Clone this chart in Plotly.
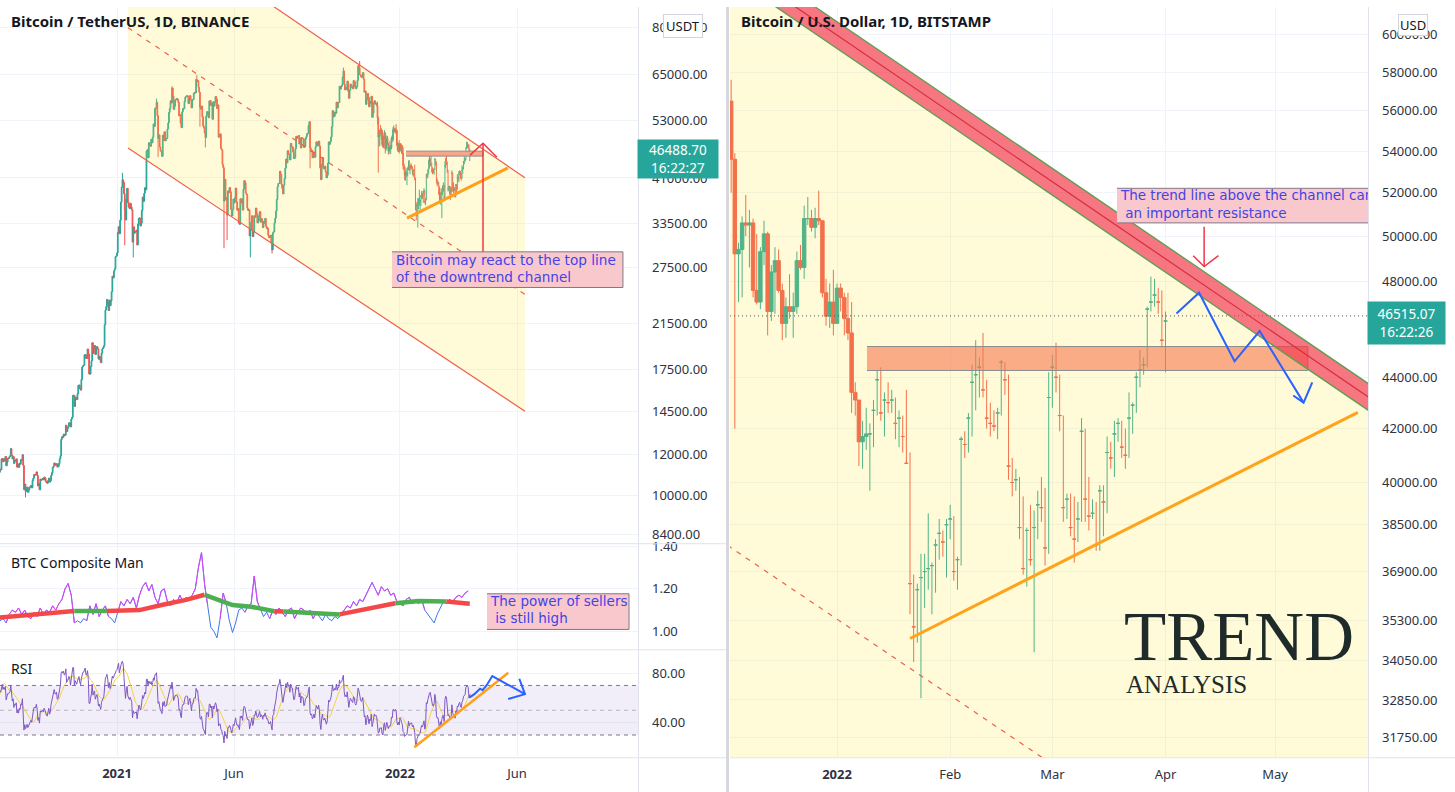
import numpy as np
import pandas as pd
import plotly.graph_objects as go

W, H = 1455, 792

# ======================= DATA =======================
# Left chart: BTC/USDT daily closes (BINANCE)
close_2020_07 = [9230, 9090, 9060, 9130, 9070, 9340, 9250, 9430, 9230, 9290, 9240, 9300, 9240, 9240, 9130, 9150,
                 9160, 9180, 9210, 9160, 9390, 9530, 9610, 9550, 9710, 9940, 10990, 10910, 11100, 11110, 11350]
close_2020_08 = [11800, 11070, 11230, 11190, 11740, 11770, 11600, 11750, 11680, 11880, 11400, 11580, 11780, 11770,
                 11860, 11910, 12300, 11950, 11750, 11870, 11520, 11680, 11650, 11750, 11330, 11470, 11320, 11530,
                 11480, 11710, 11680]
close_2020_09 = [11970, 11410, 10250, 10510, 10170, 10250, 10370, 10130, 10230, 10340, 10390, 10440, 10330, 10680,
                 10790, 10960, 10950, 10940, 11090, 10920, 10420, 10530, 10240, 10740, 10690, 10730, 10770, 10700,
                 10840, 10780]
close_2020_10 = [10620, 10570, 10550, 10670, 10790, 10600, 10670, 10920, 11050, 11300, 11380, 11540, 11430, 11430,
                 11500, 11330, 11370, 11510, 11750, 11920, 12820, 12970, 12930, 13120, 13030, 13070, 13650, 13270,
                 13460, 13560, 13800]
close_2020_11 = [13760, 13550, 14030, 14150, 15590, 15590, 14840, 15480, 15330, 15300, 15700, 16290, 16320, 16070,
                 15960, 16730, 17680, 17780, 17820, 18660, 18680, 18370, 18370, 19160, 18730, 17150, 17140, 17720,
                 18180, 19700]
close_2020_12 = [18770, 19220, 19450, 18700, 19150, 19360, 19170, 18320, 18550, 18250, 18030, 18800, 19170, 19270,
                 19440, 21350, 22800, 23130, 23870, 23480, 22740, 23820, 23240, 23730, 24710, 26490, 26280, 27080,
                 27360, 28890, 28990]
close_2021_01 = [29370, 32190, 33000, 31990, 33970, 36820, 39370, 40670, 40240, 38240, 35540, 34010, 37390, 39150,
                 36770, 36030, 35790, 36630, 36020, 35550, 30830, 32990, 32070, 32280, 32260, 32510, 30430, 33400,
                 34270, 34320, 33110]
close_2021_02 = [33520, 35510, 37660, 36950, 38290, 39260, 38900, 46200, 46480, 44840, 47970, 47410, 47230, 48690,
                 47940, 49170, 52150, 51590, 55910, 55890, 57410, 54090, 48890, 49680, 47060, 46280, 46110, 45140]
close_2021_03 = [49590, 48440, 50350, 48370, 48760, 48880, 50970, 52380, 54880, 55860, 57800, 57230, 61190, 59000,
                 55640, 56430, 58070, 58030, 58410, 58100, 57350, 54080, 54340, 52300, 51290, 55030, 55850, 55780,
                 57630, 58730, 58920]
close_2021_04 = [59100, 59000, 57090, 58200, 59130, 57990, 56000, 58090, 58090, 59770, 60000, 59860, 63580, 62960,
                 63220, 61400, 60040, 56150, 55710, 56470, 53810, 51700, 51190, 50100, 49070, 54020, 55070, 54880,
                 53580, 57750]
close_2021_05 = [57830, 56630, 57200, 53240, 57530, 56440, 57380, 58930, 58280, 55860, 56750, 49150, 49720, 49880,
                 46760, 46430, 43540, 42910, 37000, 40780, 37280, 37530, 34770, 38710, 38400, 39290, 38560, 35680,
                 34620, 35680, 37340]
close_2021_06 = [36690, 37570, 39190, 36850, 35520, 35800, 33560, 33380, 37390, 36690, 37340, 35550, 39020, 40520,
                 40140, 38350, 38090, 35820, 35480, 35600, 31680, 32510, 33680, 34660, 31600, 32240, 34650, 34430,
                 35870, 35040]
close_2021_07 = [33570, 33890, 34670, 35290, 33690, 34230, 33860, 32880, 33810, 33520, 34260, 33090, 32730, 32820,
                 31780, 31420, 31530, 31790, 30820, 29790, 32130, 32290, 33580, 34290, 35380, 37270, 39460, 40010,
                 40020, 42240, 41630]
close_2021_08 = [39850, 39150, 38200, 39720, 40870, 42840, 44610, 43840, 46290, 45600, 45550, 44430, 47830, 47100,
                 47050, 46000, 44700, 44800, 46720, 49340, 48870, 49290, 49510, 47700, 48990, 46850, 49070, 48900,
                 48810, 46990, 47170]
close_2021_09 = [48830, 49270, 49940, 49920, 51760, 52660, 46860, 46090, 46400, 44850, 45160, 46030, 44950, 47110,
                 48150, 47760, 47300, 48310, 47260, 42840, 40700, 43570, 44890, 42840, 42700, 43210, 42170, 41030,
                 41520, 43790]
close_2021_10 = [48140, 47640, 48200, 49220, 51470, 55320, 53800, 53960, 54960, 54660, 57470, 56010, 57370, 57340,
                 61670, 60880, 61530, 62010, 64280, 66000, 62210, 60690, 61300, 60850, 63080, 60330, 58450, 60590,
                 62250, 61850, 61300]
close_2021_11 = [61000, 63220, 62930, 61440, 61000, 61530, 63300, 67550, 66950, 64880, 64780, 64150, 64400, 65500,
                 63610, 60060, 60370, 56890, 58050, 59700, 58690, 56290, 57570, 57160, 58960, 53720, 54720, 57270,
                 57800, 56950]
close_2021_12 = [57200, 56500]

# Notable wicks on the left chart
wick_high_dates = ['2021-01-08', '2021-02-21', '2021-03-13', '2021-04-14', '2021-10-20', '2021-11-10']
wick_highs = [41950, 58350, 61700, 64850, 67000, 69000]
wick_low_dates = ['2020-09-05', '2021-01-11', '2021-01-22', '2021-02-23', '2021-04-18', '2021-04-25',
                  '2021-05-19', '2021-05-23', '2021-06-22', '2021-07-20', '2021-09-07']
wick_lows = [9900, 30400, 28800, 45000, 51500, 47000, 30000, 31100, 28800, 29300, 42800]

# Right chart: BTC/USD daily OHLC (BITSTAMP) from 2021-12-03
r_open = [56500, 53600, 49200, 49400, 50600, 50500, 50600, 47600, 47100, 49300, 50100, 46700, 48400, 48900, 47600,
          46200, 46900, 46700, 46900, 48900, 48600, 50800, 50800, 50400, 50800, 50700, 47500, 46500, 47100,
          46200, 47700, 47300, 46400, 45800, 43400, 43100, 41500, 41700, 41800, 42700, 43900, 42600, 43100, 43000,
          43100, 42200, 42400, 41700, 40700, 36500, 35100, 36300, 36700, 36900, 37000, 37100, 37800, 38200, 37900,
          38500, 38700, 36900, 37300, 41600, 41400, 42400, 43800, 44100, 44400, 43500, 42400, 42200, 42100, 42600,
          44600, 43900, 40600, 40000, 40100, 38400, 37000, 38300, 37300, 38400, 39200, 39100, 37700,
          43200, 44400, 44000, 42500, 39100, 39400, 38400, 38000, 38700, 41900, 39400, 38800, 38900, 37800, 39700,
          39300, 41100, 40900, 41800, 42200, 41300, 41000, 42400, 42900, 44000, 44300, 44500, 46800, 47100, 47400,
          47100, 45500, 46300]
r_high = [57600, 53900, 49700, 50900, 51900, 51200, 50800, 50100, 49500, 50700, 50200, 48700, 49500, 49400, 47900,
          47300, 48300, 47500, 49300, 49600, 51400, 51800, 51200, 51300, 52100, 50700, 48100, 47900, 48500,
          47900, 47900, 47500, 47500, 47100, 43800, 43100, 42300, 42800, 42200, 43100, 44300, 44400, 43400, 43800,
          43500, 43200, 42700, 42500, 43500, 41100, 36800, 36500, 37500, 37500, 38900, 37200, 38000, 38700, 38300,
          38700, 39200, 38800, 37400, 41700, 41900, 42600, 44500, 45500, 44800, 45800, 43900, 43000, 42700, 42800,
          44700, 44600, 44100, 40900, 40500, 40200, 39500, 38400, 39200, 39000, 39700, 40200, 39800, 44200,
          44900, 45400, 44100, 42500, 39600, 39600, 39500, 39300, 42400, 42000, 40200, 39400, 39300, 39900, 39900,
          41700, 41500, 42300, 42400, 42300, 42000, 43400, 43000, 44200, 45100, 44800, 46900, 48200, 48100, 47700,
          47600, 46700, 47200]
r_low = [52000, 42000, 47100, 47300, 50000, 48600, 47300, 47000, 46800, 48700, 45700, 46300, 46600, 47500, 45500,
         45600, 46400, 45600, 46600, 48500, 48100, 50500, 50200, 49900, 50500, 47300, 46100, 46000, 45700,
         46200, 46700, 45700, 45500, 42600, 42500, 40600, 40500, 41200, 39700, 41300, 42500, 42300, 41700, 42600,
         42600, 41600, 41300, 41100, 40800, 35500, 34000, 34600, 32900, 35700, 36300, 35500, 36200, 37300, 37400,
         36700, 38000, 36600, 36300, 37100, 40900, 41100, 41700, 42700, 43200, 43200, 42000, 41700, 41900, 41600,
         42500, 43300, 40100, 39500, 39700, 38000, 36800, 36400, 37100, 34300, 38000, 38600, 37100, 37500,
         42800, 43400, 41900, 38600, 38700, 38100, 37200, 37900, 38600, 38600, 38300, 38700, 37600, 37600, 38100,
         38900, 40500, 40200, 41500, 40900, 40500, 40900, 41800, 42600, 43600, 44100, 44400, 46700, 46900, 46600,
         45200, 44200, 46200]
r_close = [53600, 49200, 49400, 50600, 50500, 50600, 47600, 47100, 49300, 50100, 46700, 48400, 48900, 47600, 46200,
           46900, 46700, 46900, 48900, 48600, 50800, 50800, 50400, 50800, 50700, 47500, 46500, 47100, 46200,
           47700, 47300, 46400, 45800, 43400, 43100, 41500, 41700, 41800, 41800, 42700, 43900, 42600, 43100, 43000,
           43100, 42200, 42400, 41700, 40700, 36500, 35100, 36300, 36700, 36900, 37000, 37100, 37800, 38200, 37900,
           38500, 38700, 36900, 37300, 41600, 41400, 42400, 43800, 44100, 44400, 43500, 42400, 42200, 42100, 42600,
           44600, 43900, 40600, 40000, 40100, 38400, 37000, 38300, 37300, 38400, 39200, 39100, 37700, 43200,
           44400, 44000, 42500, 39100, 39400, 38400, 38000, 38700, 41900, 39400, 38800, 38900, 37800, 39700, 39300,
           41100, 40900, 41800, 42200, 41300, 41000, 42400, 42900, 44000, 44300, 44500, 46800, 47100, 47400, 47100,
           45500, 46300, 46515.07]

# BTC Composite Man (thin line, sampled every 4 days from 2020-08-03)
comp_line = [1.05, 1.06, 1.04, 1.08, 1.10, 1.09, 1.11, 1.08, 1.10, 1.07,
             1.06, 1.09, 1.07, 1.11, 1.08, 1.10, 1.09, 1.12, 1.10, 1.13,
             1.15, 1.20, 1.225, 1.17, 1.04, 1.05, 1.04, 1.06, 1.05, 1.12,
             1.08, 1.13, 1.07, 1.10, 1.12, 1.07, 1.06, 1.04, 1.09, 1.14,
             1.12, 1.15, 1.13, 1.16, 1.11, 1.17, 1.21, 1.23, 1.19, 1.22,
             1.16, 1.13, 1.19, 1.20, 1.14, 1.12, 1.15, 1.13, 1.17, 1.14,
             1.16, 1.15, 1.17, 1.20, 1.30, 1.37, 1.22, 1.12, 1.02, 1.00,
             0.97, 1.06, 1.18, 1.13, 1.05, 0.995, 1.04, 1.10, 1.11, 1.09,
             1.12, 1.13, 1.26, 1.14, 1.10, 1.07, 1.09, 1.06, 1.10, 1.08,
             1.11, 1.09, 1.07, 1.10, 1.11, 1.06, 1.09, 1.11, 1.10, 1.08,
             1.10, 1.06, 1.09, 1.07, 1.05, 1.08, 1.06, 1.05, 1.07, 1.06,
             1.08, 1.10, 1.12, 1.11, 1.14, 1.12, 1.15, 1.14, 1.17, 1.20,
             1.23, 1.20, 1.17, 1.21, 1.19, 1.20, 1.17, 1.18, 1.14, 1.13,
             1.12, 1.15, 1.16, 1.13, 1.14, 1.13, 1.15, 1.10, 1.08, 1.06,
             1.04, 1.08, 1.11, 1.14, 1.13, 1.15, 1.14, 1.16, 1.17, 1.16,
             1.18, 1.19]
# Composite Man thick base line (knots) and colour of each segment
comp_base_dates = ['2020-08-03', '2020-11-01', '2020-11-07', '2020-12-19', '2021-01-30', '2021-03-01',
                   '2021-03-31', '2021-04-24', '2021-05-30', '2021-06-23', '2021-07-23', '2021-08-04',
                   '2021-09-27', '2021-10-15', '2021-11-26', '2021-12-26', '2022-01-25', '2022-03-02',
                   '2022-04-01']
comp_base = [1.065, 1.093, 1.096, 1.096, 1.10, 1.125, 1.148, 1.172, 1.124, 1.116, 1.095, 1.093,
             1.085, 1.08, 1.108, 1.132, 1.143, 1.14, 1.13]
comp_base_colors = ['r', 'r', 'g', 'r', 'r', 'r', 'r', 'g', 'g', 'g', 'r', 'g', 'g', 'r', 'r', 'g', 'g', 'r']

# Tick labels
left_price_ticks = [80000, 65000, 53000, 41000, 33500, 27500, 21500, 17500, 14500, 12000, 10000, 8400]
right_price_ticks = [60000, 58000, 56000, 54000, 52000, 50000, 48000, 44000, 42000, 40000, 38500,
                     36900, 35300, 34050, 32850, 31750]
comp_ticks = [1.0, 1.2, 1.4]
rsi_ticks = [40, 80]
left_time_ticks = ['2021-01-01', '2021-06-01', '2022-01-01', '2022-06-01']
left_time_labels = ['<b>2021</b>', 'Jun', '<b>2022</b>', 'Jun']
right_time_ticks = ['2022-01-01', '2022-02-01', '2022-03-01', '2022-04-01', '2022-05-01']
right_time_labels = ['<b>2022</b>', 'Feb', 'Mar', 'Apr', 'May']
last_left, last_right = 46488.70, 46515.07

# ======================= DRAWINGS (data space) =======================
L_X = ['2020-08-03 02:10', '2022-11-04 00:00']
R_X = ['2021-12-02 16:20', '2022-05-26 11:30']
ch_dates = ['2021-01-15 05:00', '2022-06-11 05:00']
ch_top = [136700, 41050]
ch_bot = [46840, 14530]
l_orange_d, l_orange_p = ['2022-01-10 02:00', '2022-05-20 07:00'], [34290, 42900]
l_rect = ('2022-01-08 19:00', '2022-04-18 02:00', 45190, 46200)
l_arrow_x, l_arrow_p = '2022-04-18 02:00', (29130, 47850)
l_arrow_head = (['2022-04-01 07:00', '2022-04-18 02:00', '2022-05-06 02:00'], [45380, 47850, 44980])
l_box = ('2021-12-21 17:00', '2022-10-15 14:00', 25190, 29520)
l_text_at = ('2021-12-26 22:00', 27230)
c_box = ('2022-04-23 05:00', '2022-10-23 10:00', 1.0093, 1.1767)
c_text_at = ('2022-04-28 10:00', 1.0953)
rsi_orange = (['2022-01-19 12:00', '2022-05-20 17:00'], [20.2, 80.2])
rsi_arrow = (['2022-03-31 10:00', '2022-04-06 22:00', '2022-04-14 05:00', '2022-04-17 14:00',
              '2022-04-22 19:00', '2022-04-30 02:00', '2022-06-11 05:00'],
             [60.2, 63.0, 67.4, 66.2, 70.2, 77.6, 63.0])
rsi_arrow_head = (['2022-06-03 22:00', '2022-06-11 05:00', '2022-05-20 14:00'], [75.4, 63.0, 59.0])

band_d, band_c = ['2021-11-22', '2022-06-10'], [65630, 41840]
band_half = 1.0122
r_mid = (['2021-11-27', '2022-03-12'], [38210, 30240])
r_orange = (['2022-01-21', '2022-05-23 17:00'], [34730, 42620])
r_rect = ('2022-01-09 05:00', '2022-05-10', 44270, 45240)
r_arrow = (['2022-04-11 14:00', '2022-04-11 14:00'], [50420, 48640])
r_arrow_head = (['2022-04-08 14:00', '2022-04-11 14:00', '2022-04-15 12:00'], [49120, 48640, 49120])
r_zig = (['2022-04-04', '2022-04-10 05:00', '2022-04-19 22:00', '2022-04-26 19:00', '2022-05-08 20:00'],
         [46610, 47500, 44640, 45880, 43000])
r_zig_head = (['2022-05-06', '2022-05-08 20:00', '2022-05-11 05:00'], [43280, 43000, 43800])
r_box = ('2022-03-18 17:00', '2022-06-10', 50600, 52210)
r_text_at = ('2022-03-19 19:00', 51400)

# ======================= BUILD =======================
UP, DN = '#26a69a', '#ef5350'
YEL = 'rgba(255,235,59,0.2)'
CH = '#ef5f4c'
BOXF, BOXL, TXT = '#f9c8cc', '#7d7a8c', '#4343e8'
FONT = 'Noto Sans'


def month(start, vals):
    return pd.Series(vals, index=pd.date_range(start, periods=len(vals), freq='D'), dtype=float)


left_close = pd.concat([
    month('2020-07-01', close_2020_07), month('2020-08-01', close_2020_08), month('2020-09-01', close_2020_09),
    month('2020-10-01', close_2020_10), month('2020-11-01', close_2020_11), month('2020-12-01', close_2020_12),
    month('2021-01-01', close_2021_01), month('2021-02-01', close_2021_02), month('2021-03-01', close_2021_03),
    month('2021-04-01', close_2021_04), month('2021-05-01', close_2021_05), month('2021-06-01', close_2021_06),
    month('2021-07-01', close_2021_07), month('2021-08-01', close_2021_08), month('2021-09-01', close_2021_09),
    month('2021-10-01', close_2021_10), month('2021-11-01', close_2021_11), month('2021-12-01', close_2021_12)])
l_open = left_close.shift(1)
l_open.iloc[0] = left_close.iloc[0]
l_high = pd.concat([l_open, left_close], axis=1).max(axis=1)
l_low = pd.concat([l_open, left_close], axis=1).min(axis=1)
for d, v in zip(wick_high_dates, wick_highs):
    l_high[pd.Timestamp(d)] = v
for d, v in zip(wick_low_dates, wick_lows):
    l_low[pd.Timestamp(d)] = v

r_dates = pd.date_range('2021-12-03', periods=len(r_close), freq='D')
all_dates = list(left_close.index) + list(r_dates)
all_open = list(l_open) + r_open
all_high = list(l_high) + r_high
all_low = list(l_low) + r_low
all_close = pd.Series(list(left_close) + r_close, index=all_dates)

# RSI(14) of the closes and its 14-period average
delta = all_close.diff()
ru = delta.clip(lower=0).ewm(alpha=1 / 14, adjust=False).mean()
rd = (-delta).clip(lower=0).ewm(alpha=1 / 14, adjust=False).mean()
rsi = 100 - 100 / (1 + ru / rd)
rsi_ma = rsi.rolling(14).mean()

fig = go.Figure()


def line(x, y, color, width=1, dash=None, ax=('x', 'y')):
    fig.add_trace(go.Scatter(x=x, y=y, mode='lines', line=dict(color=color, width=width, dash=dash),
                             xaxis=ax[0], yaxis=ax[1], hoverinfo='skip', showlegend=False))


def poly(x, y, fill, border=None, bw=1, ax=('x', 'y')):
    fig.add_trace(go.Scatter(x=x, y=y, mode='lines', fill='toself', fillcolor=fill,
                             line=dict(color=border or 'rgba(0,0,0,0)', width=bw if border else 0),
                             xaxis=ax[0], yaxis=ax[1], hoverinfo='skip', showlegend=False))


def text(x, y, s, size, color=TXT, ax=('x', 'y')):
    fig.add_trace(go.Scatter(x=[x], y=[y], mode='text', text=[s], textposition='middle right',
                             textfont=dict(family='DejaVu Sans', size=size, color=color),
                             xaxis=ax[0], yaxis=ax[1], hoverinfo='skip', showlegend=False, cliponaxis=True))


# ---------- left main chart ----------
poly([ch_dates[0], ch_dates[1], ch_dates[1], ch_dates[0]], [ch_top[0], ch_top[1], ch_bot[1], ch_bot[0]], YEL)
line(ch_dates, ch_top, CH, 1.2)
line(ch_dates, ch_bot, CH, 1.2)
line(ch_dates, [np.sqrt(ch_top[0] * ch_bot[0]), np.sqrt(ch_top[1] * ch_bot[1])], CH, 1.2, dash='5px,6px')

fig.add_trace(go.Candlestick(x=all_dates, open=all_open, high=all_high, low=all_low, close=list(all_close),
                             increasing=dict(line=dict(color=UP, width=1), fillcolor=UP),
                             decreasing=dict(line=dict(color=DN, width=1), fillcolor=DN),
                             whiskerwidth=0, xaxis='x', yaxis='y', hoverinfo='skip', showlegend=False))

poly([l_rect[0], l_rect[1], l_rect[1], l_rect[0]], [l_rect[2], l_rect[2], l_rect[3], l_rect[3]],
     '#f7a58c', '#8c8c8c')
line(l_orange_d, l_orange_p, '#ff9f1a', 3)
line([l_arrow_x, l_arrow_x], list(l_arrow_p), '#f23645', 1.5)
line(l_arrow_head[0], l_arrow_head[1], '#f23645', 1.5)
poly([l_box[0], l_box[1], l_box[1], l_box[0]], [l_box[2], l_box[2], l_box[3], l_box[3]], BOXF, BOXL)
text(l_text_at[0], l_text_at[1], 'Bitcoin may react to the top line<br>of the downtrend channel', 13.6)

# ---------- composite man ----------
comp_dates = pd.date_range('2020-08-03', periods=len(comp_line), freq='4D')
bt = pd.to_datetime(comp_base_dates)
base_at = np.interp(comp_dates.values.astype('int64'), bt.values.astype('int64'), comp_base)
above = np.array(comp_line) > base_at
n = len(comp_line)
mag = [comp_line[i] if (above[i] or (i > 0 and above[i - 1]) or (i < n - 1 and above[i + 1]))
       else None for i in range(n)]
line(comp_dates, comp_line, '#3d78e6', 1, ax=('x2', 'y2'))
fig.add_trace(go.Scatter(x=comp_dates, y=mag, mode='lines', line=dict(color='#e040fb', width=1),
                         connectgaps=False, xaxis='x2', yaxis='y2', hoverinfo='skip', showlegend=False))
start = 0
for k in range(1, len(comp_base_colors) + 1):
    if k == len(comp_base_colors) or comp_base_colors[k] != comp_base_colors[start]:
        col = '#f44848' if comp_base_colors[start] == 'r' else '#4caf50'
        line(bt[start:k + 1], comp_base[start:k + 1], col, 4.5, ax=('x2', 'y2'))
        start = k
poly([c_box[0], c_box[1], c_box[1], c_box[0]], [c_box[2], c_box[2], c_box[3], c_box[3]], BOXF, BOXL,
     ax=('x2', 'y2'))
text(c_text_at[0], c_text_at[1], 'The power of sellers<br> is still high', 13.5, ax=('x2', 'y2'))

# ---------- RSI ----------
poly([L_X[0], L_X[1], L_X[1], L_X[0]], [30, 30, 70, 70], 'rgba(126,87,194,0.1)', ax=('x3', 'y3'))
for lvl, col in ((70, '#787b86'), (50, '#b2b5be'), (30, '#787b86')):
    line(L_X, [lvl, lvl], col, 1, dash='4px,4px', ax=('x3', 'y3'))
line(all_dates, list(rsi_ma), '#f5d142', 1, ax=('x3', 'y3'))
line(all_dates, list(rsi), '#7e57c2', 1, ax=('x3', 'y3'))
line(rsi_orange[0], rsi_orange[1], '#ff9f1a', 2.5, ax=('x3', 'y3'))
line(rsi_arrow[0], rsi_arrow[1], '#2962ff', 2, ax=('x3', 'y3'))
line(rsi_arrow_head[0], rsi_arrow_head[1], '#2962ff', 2, ax=('x3', 'y3'))

# ---------- right chart ----------
lo_edge = [c / band_half for c in band_c]
up_edge = [c * band_half for c in band_c]
poly([band_d[0], band_d[1], band_d[1], band_d[0]], [lo_edge[0], lo_edge[1], 25000, 25000], YEL,
     ax=('x4', 'y4'))
line(r_mid[0], r_mid[1], CH, 1.2, dash='5px,6px', ax=('x4', 'y4'))
fig.add_trace(go.Candlestick(x=r_dates, open=r_open, high=r_high, low=r_low, close=r_close,
                             increasing=dict(line=dict(color=UP, width=1), fillcolor=UP),
                             decreasing=dict(line=dict(color=DN, width=1), fillcolor=DN),
                             whiskerwidth=0, xaxis='x4', yaxis='y4', hoverinfo='skip', showlegend=False))
line(R_X, [last_right, last_right], '#4a5a5a', 1, dash='1px,3px', ax=('x4', 'y4'))
poly([r_rect[0], r_rect[1], r_rect[1], r_rect[0]], [r_rect[2], r_rect[2], r_rect[3], r_rect[3]],
     'rgba(245,120,80,0.6)', '#8c8c8c', ax=('x4', 'y4'))
poly([band_d[0], band_d[1], band_d[1], band_d[0]], [up_edge[0], up_edge[1], lo_edge[1], lo_edge[0]],
     'rgba(242,60,75,0.7)', ax=('x4', 'y4'))
line(band_d, up_edge, '#5d9e52', 1.3, ax=('x4', 'y4'))
line(band_d, lo_edge, '#5d9e52', 1.3, ax=('x4', 'y4'))
line(band_d, band_c, '#d62f3c', 1.2, ax=('x4', 'y4'))
line(r_orange[0], r_orange[1], '#ffa31a', 3, ax=('x4', 'y4'))
line(r_arrow[0], r_arrow[1], '#f23645', 1.5, ax=('x4', 'y4'))
line(r_arrow_head[0], r_arrow_head[1], '#f23645', 1.5, ax=('x4', 'y4'))
line(r_zig[0], r_zig[1], '#2962ff', 2, ax=('x4', 'y4'))
line(r_zig_head[0], r_zig_head[1], '#2962ff', 2, ax=('x4', 'y4'))
poly([r_box[0], r_box[1], r_box[1], r_box[0]], [r_box[2], r_box[2], r_box[3], r_box[3]], BOXF, BOXL,
     ax=('x4', 'y4'))
text(r_text_at[0], r_text_at[1], 'The trend line above the channel can be<br> an important resistance', 13.5,
     ax=('x4', 'y4'))

# ======================= LAYOUT =======================
GRID = '#f0f3fa'
TICKF = dict(family=FONT, size=13, color='#2f3241')
LX_DOM = [0, 638 / W]
RX_DOM = [730 / W, 1368 / W]


def xax(dom, rng, tv, tt, show, anchor):
    return dict(domain=dom, range=rng, type='date', tickvals=tv, ticktext=tt, showticklabels=show,
                showgrid=True, gridcolor=GRID, zeroline=False, showline=False, ticks='', anchor=anchor,
                rangeslider=dict(visible=False), tickfont=TICKF, ticklabelstandoff=8, fixedrange=True)


def yax(dom, rng, tv, fmt, anchor, typ='linear'):
    return dict(domain=dom, range=rng, type=typ, tickvals=tv, ticktext=[fmt.format(v) for v in tv],
                side='right', showgrid=True, gridcolor=GRID, zeroline=False, showline=False, ticks='',
                anchor=anchor, tickfont=TICKF, ticklabelstandoff=13, fixedrange=True)


shapes = []


def pline(x0, y0, x1, y1, col='#e0e3eb', w=1):
    shapes.append(dict(type='line', xref='paper', yref='paper', x0=x0 / W, x1=x1 / W, y0=1 - y0 / H,
                       y1=1 - y1 / H, line=dict(color=col, width=w), layer='above'))


pline(638.5, 0, 638.5, H)
pline(0, 541.5, 727, 541.5)
pline(0, 648.5, 727, 648.5)
pline(0, 757.5, 727, 757.5)
pline(727.5, 0, 727.5, H, '#d6d8de', 3)
pline(1368.5, 0, 1368.5, H)
pline(730, 757.5, W, 757.5)

ann = []


def note(x, y, s, size=14, color='#131722', family=FONT, xanchor='left', **kw):
    ann.append(dict(x=x / W, y=1 - y / H, xref='paper', yref='paper', text=s, showarrow=False,
                    xanchor=xanchor, yanchor='middle', font=dict(family=family, size=size, color=color), **kw))


note(9, 14, '<b>Bitcoin / TetherUS, 1D, BINANCE</b>', 15)
note(739, 14, '<b>Bitcoin / U.S. Dollar, 1D, BITSTAMP</b>', 15)
note(9, 560, 'BTC Composite Man', 14)
note(9, 667, 'RSI', 14)
note(678, 153, '{:.2f}<br>16:22:27'.format(last_left), 13.5, 'white', xanchor='center', bgcolor=UP,
     width=80, height=38, borderpad=0)
note(1406.5, 318.5, '{:.2f}<br>16:22:26'.format(last_right), 13.5, 'white', xanchor='center', bgcolor=UP,
     width=77, height=42, borderpad=0)
note(683, 19, 'USDT', 13, xanchor='center', bgcolor='white', bordercolor='#d1d4dc', borderwidth=1, borderpad=2)
note(1413, 18, 'USD', 13, xanchor='center', bgcolor='white', bordercolor='#d1d4dc', borderwidth=1, borderpad=1)
note(1122, 636, 'TREND', 69, '#1f2b2b', 'Liberation Serif')
note(1124, 684, 'ANALYSIS', 25, '#1f2b2b', 'Liberation Serif')

fig.update_layout(
    width=W, height=H, margin=dict(l=0, r=0, t=0, b=0), paper_bgcolor='white', plot_bgcolor='white',
    showlegend=False, hovermode=False, dragmode=False, boxgap=0.05, boxgroupgap=0,
    xaxis=xax(LX_DOM, L_X, left_time_ticks, left_time_labels, False, 'y'),
    xaxis2=xax(LX_DOM, L_X, left_time_ticks, left_time_labels, False, 'y2'),
    xaxis3=xax(LX_DOM, L_X, left_time_ticks, left_time_labels, True, 'y3'),
    xaxis4=xax(RX_DOM, R_X, right_time_ticks, right_time_labels, True, 'y4'),
    yaxis=yax([1 - 541 / H, 1], [3.90717, 4.94313], left_price_ticks, '{:.2f}', 'x', 'log'),
    yaxis2=yax([1 - 648 / H, 1 - 542 / H], [0.9163, 1.4093], comp_ticks, '{:.2f}', 'x2'),
    yaxis3=yax([1 - 756 / H, 1 - 649 / H], [12.8, 98.4], rsi_ticks, '{:.2f}', 'x3'),
    yaxis4=yax([1 - 757 / H, 1], [4.49398, 4.78906], right_price_ticks, '{:.2f}', 'x4', 'log'),
    shapes=shapes, annotations=ann,
)
fig.write_html('out.html', config={'displayModeBar': False, 'staticPlot': True})
